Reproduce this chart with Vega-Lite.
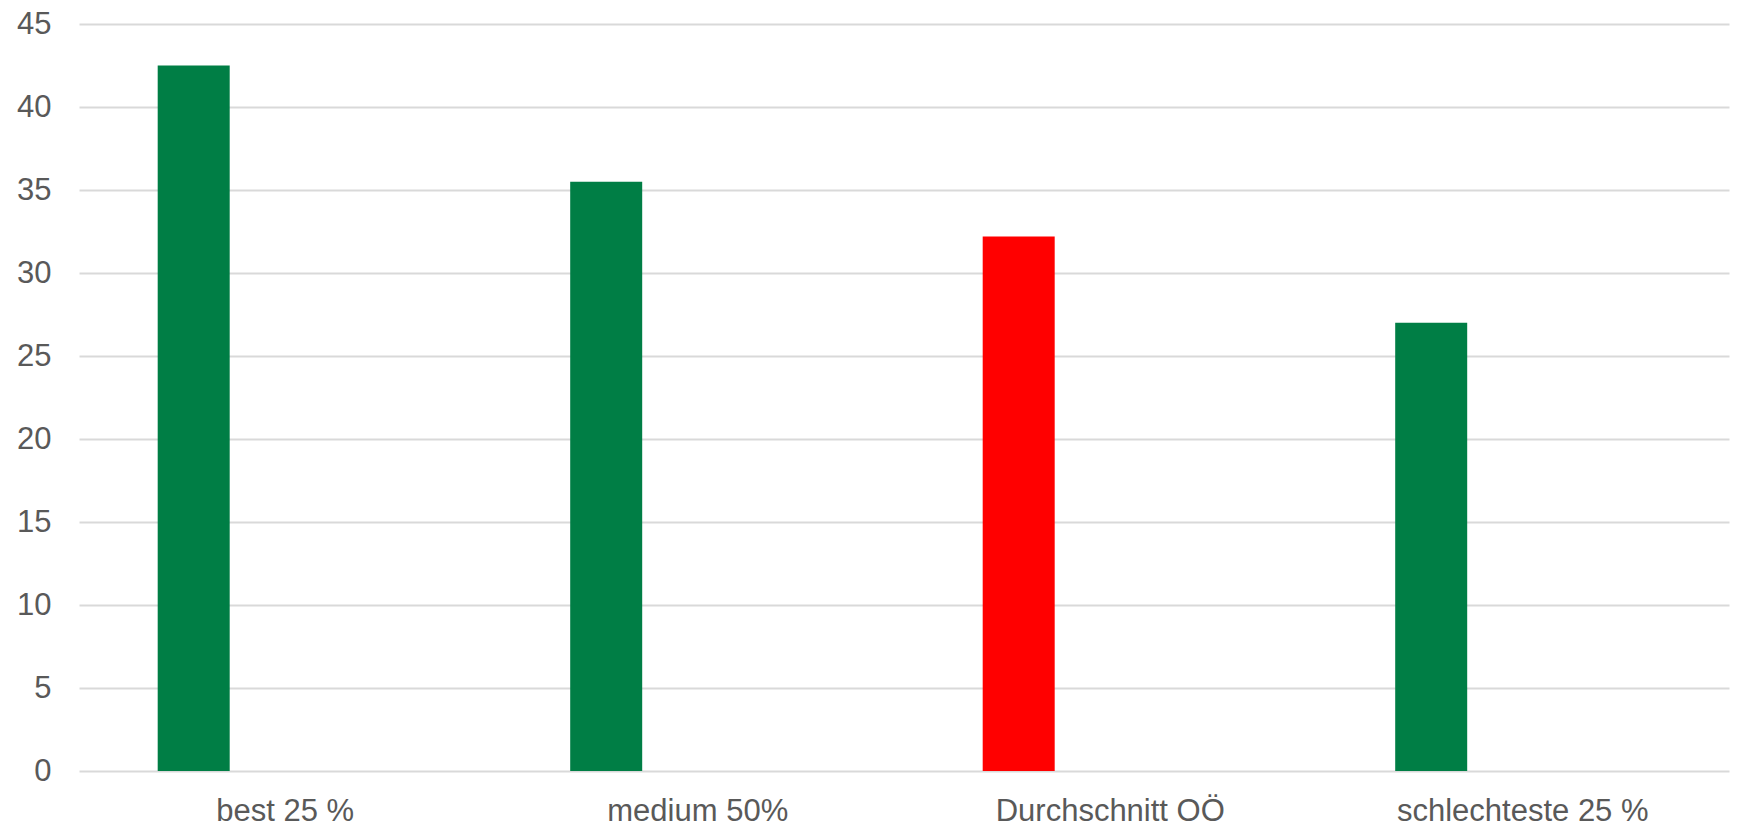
{
  "$schema": "https://vega.github.io/schema/vega-lite/v6.json",
  "width": 1650,
  "height": 747,
  "autosize": {"type": "none"},
  "padding": {"left": 79, "top": 24, "right": 8, "bottom": 55},
  "background": "white",
  "config": {
    "view": {"stroke": null},
    "font": "Liberation Sans"
  },
  "data": {
    "values": [
      {"Gruppe": "best 25 %", "Reihe": "Wert", "Wert": 42.5},
      {"Gruppe": "medium 50%", "Reihe": "Wert", "Wert": 35.5},
      {"Gruppe": "Durchschnitt OÖ", "Reihe": "Wert", "Wert": 32.2},
      {"Gruppe": "schlechteste 25 %", "Reihe": "Wert", "Wert": 27.0}
    ]
  },
  "mark": {"type": "bar"},
  "encoding": {
    "x": {
      "field": "Gruppe",
      "type": "nominal",
      "sort": null,
      "scale": {"paddingInner": 0, "paddingOuter": 0},
      "axis": {
        "title": null,
        "labelAngle": 0,
        "ticks": false,
        "domain": false,
        "labelFontSize": 31,
        "labelColor": "#595959",
        "labelPadding": 25,
        "labelLimit": 0,
        "labelFont": "Liberation Sans"
      }
    },
    "xOffset": {
      "field": "Reihe",
      "type": "nominal",
      "scale": {"domain": ["Wert", "Vergleich"], "paddingInner": 0.6068, "paddingOuter": 0.4298}
    },
    "y": {
      "field": "Wert",
      "type": "quantitative",
      "scale": {"domain": [0, 45], "nice": false},
      "axis": {
        "title": null,
        "values": [0, 5, 10, 15, 20, 25, 30, 35, 40, 45],
        "grid": true,
        "gridColor": "#D9D9D9",
        "gridWidth": 2,
        "domain": false,
        "ticks": false,
        "labelFontSize": 31,
        "labelColor": "#595959",
        "labelPadding": 28,
        "labelFont": "Liberation Sans"
      }
    },
    "color": {
      "condition": {"test": "datum.Gruppe === 'Durchschnitt OÖ'", "value": "#FF0000"},
      "value": "#007E45"
    }
  }
}
